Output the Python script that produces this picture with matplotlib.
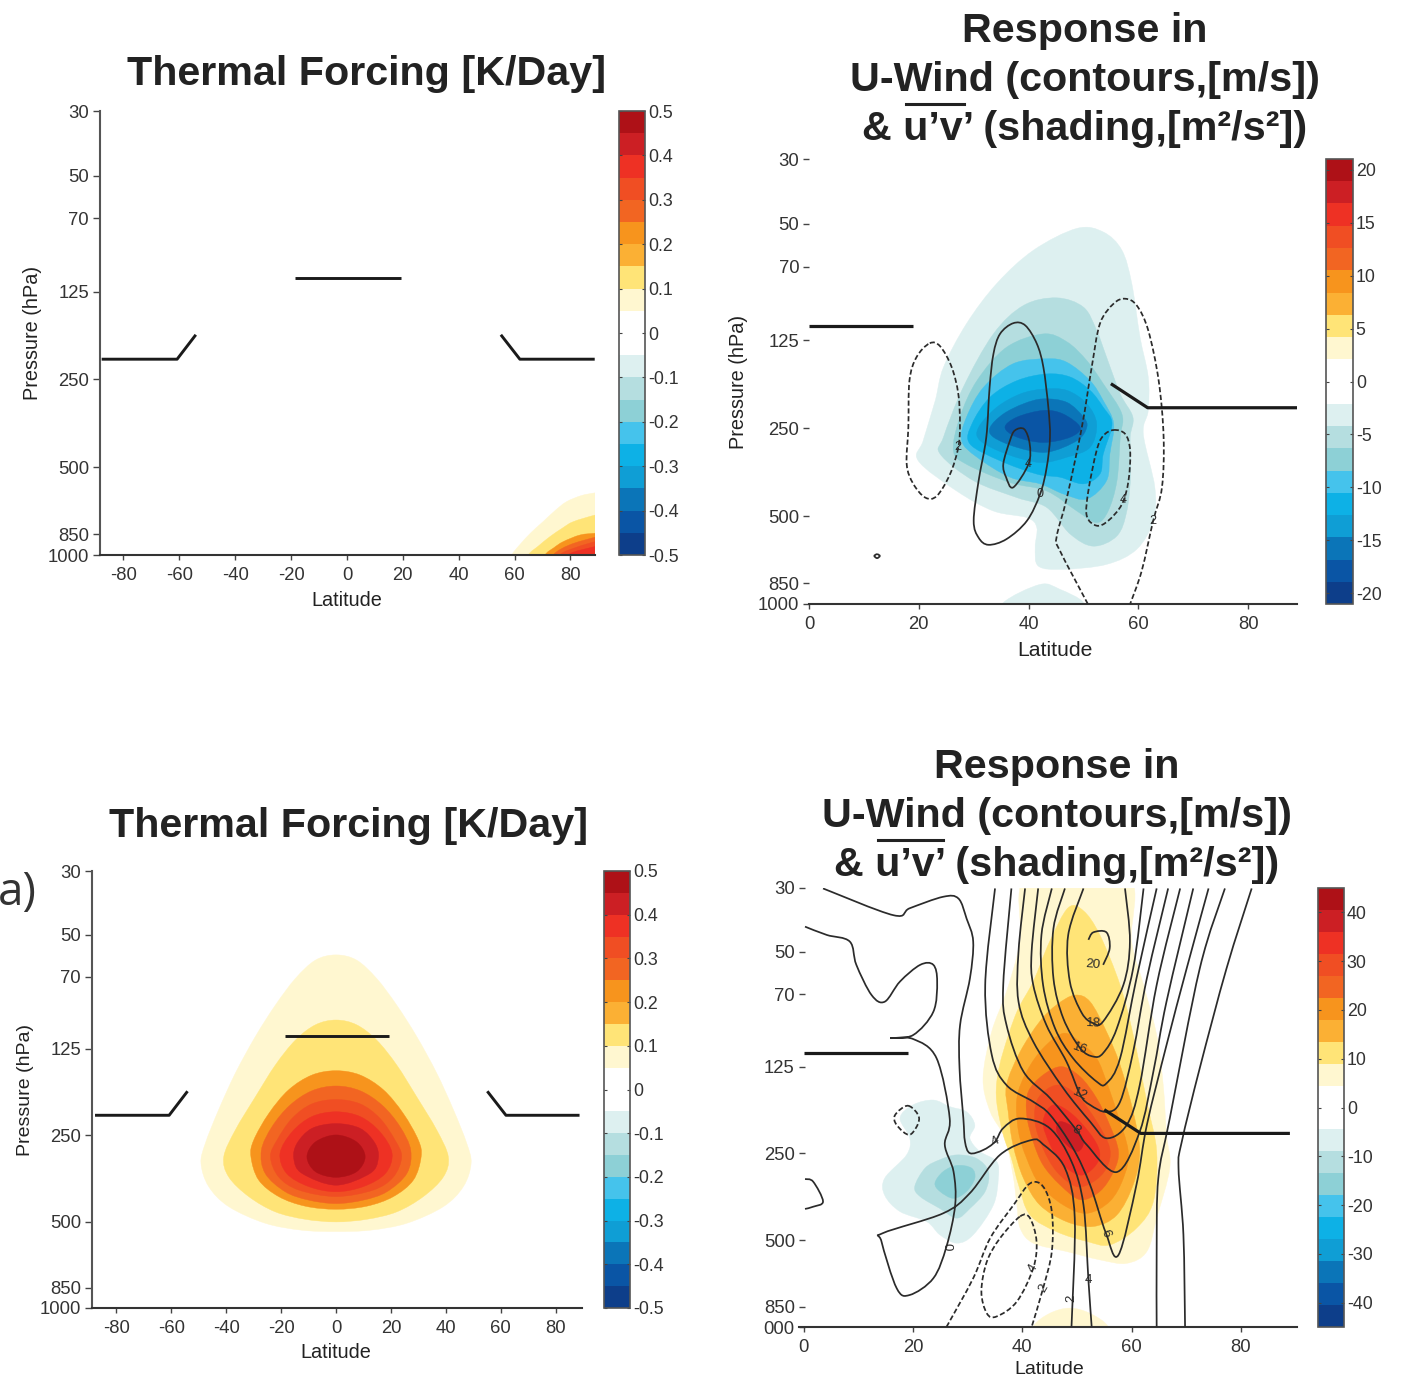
import numpy as np
import matplotlib
matplotlib.use('Agg')
import matplotlib.pyplot as plt
from matplotlib.cm import ScalarMappable
from matplotlib.colors import BoundaryNorm, ListedColormap
from matplotlib.patches import PathPatch
from matplotlib.path import Path

plt.rcParams['font.family'] = ['Liberation Sans', 'DejaVu Sans']
plt.rcParams['axes.unicode_minus'] = False

W, H = 1404, 1378
INK = '#2b2b2b'

# pressure levels and colour scale
P_TOP, P_BOT = 30, 1000
P_TICKS = [30, 50, 70, 125, 250, 500, 850, 1000]
P_LABELS = ['30', '50', '70', '125', '250', '500', '850', '1000']
P_LABELS_D = ['30', '50', '70', '125', '250', '500', '850', '000']
LAT_FULL = [-80, -60, -40, -20, 0, 20, 40, 60, 80]
LAT_NH = [0, 20, 40, 60, 80]
WARM = ['#fff7d0', '#ffe477', '#fbb034', '#f7941d', '#f26522', '#f04e23', '#ee3124', '#cc1f24', '#ae1117']
COOL = ['#ddf0f0', '#b5dee0', '#8dd0d6', '#45c3ec', '#0db1e6', '#0f9ed5', '#0b75b8', '#0a55a5', '#0d3e8a']
BAR_COLORS = COOL[::-1] + ['#ffffff', '#ffffff'] + WARM
CB_FORCING = [0.5, 0.4, 0.3, 0.2, 0.1, 0, -0.1, -0.2, -0.3, -0.4, -0.5]
CB_FORCING_LAB = ['0.5', '0.4', '0.3', '0.2', '0.1', '0', '-0.1', '-0.2', '-0.3', '-0.4', '-0.5']
CB_B = [20, 15, 10, 5, 0, -5, -10, -15, -20]
CB_D = [40, 30, 20, 10, 0, -10, -20, -30, -40]

# all outlines below: (latitude, lev), lev = % of the log-pressure depth, 0 = 30 hPa, 100 = 1000 hPa

# jet markers
JET_TOP = [(-18.6, 37.7), (19.2, 37.7)]
JET_L = [(-87.8, 55.9), (-60.8, 55.9), (-54.1, 50.4)]
JET_R = [(55.1, 50.4), (61.9, 55.9), (88.7, 55.9)]
JET_NH_TOP = [(0, 37.6), (19, 37.6)]
JET_NH_R = [(55, 50.5), (61.7, 55.9), (89, 55.9)]

# forcing, panel c (right half, mirrored about the equator)
FC_1 = [(0, 19.2), (7.5, 20.4), (14.8, 24.6), (22.1, 30.7), (29.4, 37.9), (36.7, 46.3), (42.8, 54.7), (47.6, 62.3), (49.2, 66.9),
        (46.4, 72.2), (39.1, 76.8), (25.8, 80.6), (12.4, 82.2), (0, 82.5)]
FC_2 = [(0, 34.1), (7.5, 35.2), (14.8, 38.7), (22.1, 44.4), (29.4, 51.7), (36.7, 59.3), (40.9, 65.4), (39.1, 70), (31.8, 74.5),
        (22.1, 78), (11.2, 79.7), (0, 80.3)]
FC_3 = [(0, 45.7), (8.8, 46.7), (17.3, 50.1), (24.5, 55.5), (30, 61.6), (31, 65.4), (28.2, 70.7), (20.9, 74.5), (11.2, 76.7), (0, 77.4)]
FC_4 = [(0, 49.2), (8.8, 50.3), (16.8, 53.6), (23.3, 58.5), (27.2, 63.9), (25.8, 69.2), (18.5, 73.4), (10, 75.3), (0, 76.1)]
FC_5 = [(0, 52.3), (8.8, 53.3), (16, 56.6), (21.5, 61.6), (23.9, 65.4), (20.9, 70), (13.6, 73), (0, 74.5)]
FC_6 = [(0, 55.1), (8.8, 56.2), (16, 59.7), (20.4, 64.6), (18, 69.2), (10, 72.2), (0, 73.4)]
FC_7 = [(0, 57.8), (8.8, 58.9), (14.2, 62.3), (15.4, 65.8), (12.4, 69.2), (0, 71.9)]
FC_8 = [(0, 60.4), (7.5, 62), (10.6, 65.4), (7.5, 68.8), (0, 70.1)]

# forcing, panel at the pole
FA_1 = [(59, 100), (62, 97.6), (66, 94.9), (70.2, 92.5), (74.5, 90), (78.6, 88), (84, 86.6), (88.8, 86), (91, 85.8), (92, 104), (56, 104)]
FA_2 = [(64.9, 100), (68.5, 98), (72.6, 95.9), (77, 94), (81, 92.5), (88.8, 91), (91, 90.8), (92, 104), (62, 104)]
FA_3 = [(70.9, 100), (74, 98.4), (77.4, 97), (83.4, 95.5), (88.8, 95.1), (91, 95), (92, 104), (68, 104)]
FA_4 = [(73.8, 100), (79.8, 97.7), (88.8, 96), (91, 95.8), (92, 104), (71, 104)]
FA_5 = [(76.2, 100), (82, 98.3), (88.8, 97), (91, 96.8), (92, 104), (73, 104)]
FA_6 = [(79, 100), (88.8, 98.1), (91, 97.8), (92, 104), (76, 104)]

# u'v' shading, upper right panel
SB_1 = [(48.8, 15.6), (53.6, 16.4), (57, 20.5), (58.8, 28), (60.3, 40), (61.8, 49), (61.8, 56.5), (60.9, 61.8), (63, 73.8),
        (62.7, 81.3), (59.7, 87.7), (54.2, 91.1), (46.3, 92.2), (41.8, 91.5), (41.2, 87.3), (41.5, 82.8), (39.7, 80.6),
        (33.6, 79.1), (26.9, 74.6), (19.9, 67.8), (20.8, 63.3), (23, 54.3), (24.5, 46.8), (28.7, 37), (34.2, 28), (40.9, 20.5)]
SB_1B = [(35.4, 99.7), (42.1, 95.6), (45.7, 96.7), (50, 99.7), (50, 104), (35, 104)]
SB_2 = [(45.1, 31.2), (50, 33.3), (52.4, 38.5), (54.2, 44.5), (56.7, 52.8), (59, 58), (58.5, 62.6), (58.6, 70.8), (57.9, 79.1),
        (56.1, 84.7), (51.8, 87), (47.6, 84.3), (43.3, 78.3), (37.9, 76.1), (30, 72.3), (23.9, 66.3), (24.5, 62.5), (28.1, 51.3),
        (33.6, 39.3), (39.1, 32.9)]
SB_3 = [(42.7, 39.3), (47, 41.1), (50.6, 45.3), (53.6, 50.5), (57, 57.3), (56.7, 62.5), (56.1, 72.3), (54.5, 79.1), (52.4, 81.7),
        (48.8, 79.1), (43.3, 74.6), (36.6, 72.7), (28.7, 68.6), (26.3, 65.5), (27.5, 58), (30.6, 49.8), (36, 42.3)]
SB_4 = [(43.3, 44.9), (47, 45.7), (51.2, 49.8), (53.6, 54.3), (55.5, 59.5), (54.8, 66.3), (54.2, 72.3), (50.6, 76.4), (46.4, 75.3),
        (42.1, 73), (36.6, 71.5), (30.6, 67), (27.8, 63.3), (28.7, 58), (31.8, 51.3), (37.2, 46)]
SB_5 = [(43.3, 48.3), (47.6, 49), (51.2, 52), (53.6, 55.8), (55.2, 59.5), (53.6, 66.3), (53, 70.8), (50, 73), (45.7, 71.5),
        (41.5, 70.8), (34.8, 67.8), (29.3, 64), (29.7, 59.5), (33, 53.5), (37.9, 49.8)]
SB_6 = [(42.7, 51.7), (47, 52), (50.6, 55), (52.4, 59.5), (51.2, 64.8), (47, 67), (42.1, 68.2), (36, 66.3), (31.2, 63.3),
        (30.9, 60.3), (34.2, 55.8), (38.5, 52.8)]
SB_7 = [(42.7, 53.9), (47, 54.7), (50, 58), (50.6, 60.3), (48.8, 63.3), (43.3, 65.9), (37.9, 64.8), (33.6, 62.5), (33, 60.3),
        (35.4, 57.3), (39.1, 55)]
SB_8 = [(42.7, 56.5), (46.3, 57.3), (49.4, 60.3), (47.6, 62.5), (42.7, 63.7), (37.9, 62.5), (35.7, 60.3), (37.9, 58)]

# u-wind contours, upper right panel
UB_DASH_L = [(22, 41.4), (23.9, 42.1), (26, 46.8), (27.2, 52.8), (27.5, 59.5), (27.2, 64.8), (25.7, 70.8), (23.3, 75.7), (21.2, 76.1),
             (19, 73), (17.8, 68.6), (18.1, 60.3), (18.3, 49.8), (19.6, 44.5)]
UB_MAIN = [(37.2, 36.9), (39.4, 37.4), (41.5, 41.5), (42.7, 46.8), (43.6, 55.8), (43.9, 62.5), (43.3, 69.3), (42.1, 75.3), (39.7, 81.3),
           (36, 85.4), (32.7, 86.7), (30.9, 85.1), (30, 81.3), (30.9, 72.3), (32.3, 62.5), (32.9, 51.3), (33.6, 43.8), (34.8, 39.3)]
UB_INNER = [(37.5, 61), (39.2, 60.7), (40.2, 64), (40, 68.5), (37.2, 73.8), (35.9, 71.5), (35.4, 68.5), (36.6, 63.3)]
UB_DASH_R = [(50.8, 100), (45.7, 88), (45.1, 85), (47, 76), (49.7, 60.3), (51.5, 46.8), (53, 37), (55.5, 32.5), (57.6, 31.4), (59.7, 32.9),
             (61.8, 38.5), (63.7, 49.8), (64.6, 62.5), (64.3, 73.8), (62.7, 81.3), (60.6, 92.6), (58.5, 100)]
UB_DASH_IN = [(55.5, 60.9), (57.6, 61.8), (58.5, 65.5), (58.2, 72.3), (57, 77.6), (54.5, 81.3), (52.4, 82.4), (50.6, 80.2), (50.9, 74.5),
              (52.4, 65.5), (53.6, 62.2)]
UB_SPECK = [(12.4, 88.8), (12.9, 89.2), (12.4, 89.7), (11.9, 89.2)]
LABELS_B = [('2', 27.2, 64.8, 0), ('0', 42.1, 75.3, 0), ('4', 40, 68.5, 0), ('4', 57.3, 76.7, 0), ('2', 62.7, 81.3, 0)]

# u'v' shading, lower right panel
SD_1 = [(41.1, -3), (59.1, -3), (60, 12.2), (62.2, 22.1), (64.6, 33.5), (65.8, 44.9), (66.4, 56.2), (67, 63.8), (64.6, 75.2), (62.8, 82.8),
        (59.1, 85.5), (54.2, 84.7), (48.1, 82.8), (42, 80.9), (39.6, 77.5), (39, 72.2), (38.3, 65.4), (36.8, 57), (34.1, 50.9), (32.8, 43.3),
        (34.4, 32.7), (37.1, 23.6), (39.6, 12.2)]
SD_1B = [(42, 99.9), (45, 96.9), (48.7, 95.7), (52.4, 96.9), (55.7, 99.9), (55.7, 104), (42, 104)]
SD_2 = [(48.4, 4.5), (51.2, 5.2), (54.2, 10.7), (57.9, 22.1), (60.3, 33.5), (62.8, 48.7), (64.6, 60), (64, 71.4), (60.9, 77.5), (56, 81.3),
        (51.8, 80.5), (46.3, 78.3), (41.4, 74.5), (39.3, 67.6), (38, 61.6), (36.5, 56.2), (35.3, 48.7), (35.4, 43.3), (36.5, 37.3), (39, 28.2),
        (42, 21.3), (45, 12.2)]
SD_3 = [(49.6, 24.4), (52.4, 25.9), (55.4, 32.7), (57.9, 40.3), (60.3, 51), (61.5, 60), (60.3, 67.6), (57.3, 74.5), (53, 77.1), (48.1, 76),
        (43.2, 72.2), (40.2, 66.1), (38.3, 58.5), (37.4, 50.9), (37.1, 44.9), (39.6, 37.3), (43.2, 30.4), (46.3, 26.6)]
SD_4 = [(47.5, 33.1), (50.5, 35), (53.6, 38.8), (55.4, 44.1), (57.3, 51), (59.4, 60), (58.5, 66.1), (56, 71.4), (51.8, 74.1), (47.5, 72.2),
        (43.2, 67.6), (40.8, 61.6), (39.3, 55.5), (39, 47.9), (40.8, 41.8), (43.8, 36.5)]
SD_5 = [(47.2, 40.7), (50.6, 43), (53.6, 47.9), (56, 54), (57.6, 60), (56.7, 64.6), (54.2, 69.1), (50.6, 71), (46.9, 67.6), (43.8, 63.1),
        (42, 57.8), (40.8, 51.7), (41.1, 46.4), (43.8, 42.6)]
SD_6 = [(46.3, 44.9), (49.9, 47.1), (53.6, 53.2), (56, 59.3), (55.4, 63.8), (53, 66.9), (49.9, 68), (46.3, 64.6), (43.8, 59.3), (42.3, 53.2),
        (42.9, 47.9)]
SD_7 = [(45.7, 49.4), (49.3, 51.7), (53, 57), (54.2, 60.8), (53, 63.8), (50.6, 65.4), (47.5, 63.1), (45.1, 58.5), (43.8, 53.2)]
SD_8 = [(46.9, 53.2), (49.6, 54.7), (51.2, 57.8), (50.2, 60), (48.1, 58.5), (46.3, 55.5)]
SD_N1 = [(23.7, 48.3), (26.7, 49.8), (29.8, 51), (31.3, 54), (30.4, 57), (32.2, 60), (35.3, 62.3), (35.6, 66.1), (34.7, 72.2), (31, 79), (28, 80.9),
         (24.9, 79), (22.5, 76), (17.6, 73.7), (14.8, 70), (14.8, 66.1), (18.8, 60.8), (19.4, 57), (17.6, 52.4), (20, 49.4)]
SD_N2 = [(28, 60.8), (31.6, 61.6), (33.8, 64.6), (33.2, 69.1), (30.4, 73), (28, 75.2), (24.9, 73), (21.3, 70.3), (20.3, 68), (22.2, 63.8), (24.9, 61.9)]
SD_N3 = [(28, 63.2), (30.7, 63.8), (31.3, 66.1), (29.8, 69.1), (27.4, 70.7), (24.9, 69.1), (24, 67.2), (25.5, 64.6)]

# u-wind contours, lower right panel
UD_0 = [(0.2, 8.8), (4.2, 10.7), (8.4, 12.2), (9.6, 17.5), (12.4, 24.4), (14.8, 25.9), (17.6, 21.3), (21.3, 17.5), (23.7, 17.5), (24.4, 21.3),
        (23.7, 28.2), (20, 33.5), (15.8, 34.2), (20, 34.4), (24.3, 38.8), (26.7, 52.5), (25.8, 58.5), (27.4, 64.6), (27.7, 72.2), (26.1, 81.7),
        (23.7, 88.9), (19.4, 92.7), (17, 91.2), (14.2, 80.5), (14.5, 78.6), (25.5, 74.1), (30.4, 69.5), (35.9, 60.8), (41.7, 57.4), (43.8, 58.4),
        (47.8, 63.8), (49.6, 75.2), (49, 100)]
UD_4 = [(3.5, 0.1), (16.4, 6.2), (19.4, 4.6), (25.5, 2), (28.3, 2.4), (29.8, 7), (31, 12.2), (30.4, 20.6), (28.6, 31.2), (28.5, 41.1), (29.2, 52.5),
        (29.5, 57.8), (30.4, 60.4), (32.8, 59.7), (35, 57.8), (36.5, 54.7), (39.6, 52.5), (45, 54.7), (49, 62.3), (51.2, 72.2), (52.1, 89.3), (52.7, 100)]
UD_6 = [(35, 0.1), (33.2, 22.1), (34.4, 38), (37.1, 44.9), (42, 48.7), (45.1, 51.7), (49.3, 59.3), (52.4, 67.6), (55.3, 78.6), (57.6, 83.6),
        (60.9, 67.6), (62.8, 54), (66.4, 35.8), (70.1, 18.3), (74.1, 0.1)]
UD_8 = [(38, 0.1), (36.5, 22.1), (37.1, 31.2), (40.2, 41.8), (45.1, 47.9), (49.9, 55.1), (51.8, 58.5), (57.3, 64.7), (61.5, 55.5), (64, 41.8),
        (66.4, 25.9), (71.3, 0.1)]
UD_10 = [(40.5, 0.1), (39.3, 14.5), (39.3, 25.9), (42, 35), (47.5, 45.6), (52.4, 53.2), (55.4, 57), (59.1, 54), (61.5, 44.9), (64.6, 22.1), (68.9, 0.1)]
UD_12 = [(42.9, 0.1), (41.7, 14.5), (42, 22.1), (44.4, 31.2), (48.1, 39.6), (50.6, 47.1), (52.4, 49.4), (55.4, 51), (57.9, 48.7), (60.3, 37.3),
         (62.8, 20.6), (66.7, 0.1)]
UD_14 = [(45.4, 0.1), (43.5, 10.7), (43.8, 22.1), (46, 32), (49.3, 38.8), (53.6, 44.1), (55.4, 44.5), (57.9, 38.8), (60.9, 20.6), (64.6, 0.1)]
UD_16 = [(47.8, 0.1), (45.7, 9.2), (45.7, 20.6), (47.5, 29.7), (50.6, 36.5), (53, 38.4), (54.8, 37.6), (57.3, 32), (60.3, 18.3), (62.2, 0.1)]
UD_18 = [(51.2, 0.1), (48.4, 10.7), (48.7, 21.3), (50.9, 28.5), (53, 30.8), (54.8, 30.4), (58.5, 22.1), (59.7, 12.2), (58.8, 0.1)]
UD_20 = [(54.8, 17.5), (56, 13.7), (55.4, 10.1), (53, 10.1), (52.1, 11.8)]
UD_R2 = [(77.1, 0.1), (72.5, 18.3), (67, 52.5), (64.9, 66.1), (64.6, 82.8), (64.6, 100)]
UD_R1 = [(82, 0.1), (77.4, 18.3), (72.5, 41), (69.2, 57.8), (68.6, 63.8), (69.5, 79), (69.8, 100)]
UD_LEFT = [(0.2, 66.3), (1.7, 66.9), (3.5, 71.4), (1.7, 72.6), (0.2, 73.1)]
UD_DASH_O = [(26.1, 100), (31, 88.9), (34.1, 79.8), (38.4, 72.2), (41.4, 67.3), (43.8, 68), (45.4, 73.7), (45.4, 82.8), (43.8, 91.2), (41.7, 100)]
UD_DASH_I = [(39.6, 74.8), (41.4, 75.2), (42.6, 80.5), (42, 86.6), (39, 94.2), (35.3, 97.6), (33.5, 96.9), (32.5, 91.9), (33.5, 85.1), (35.9, 79.8)]
UD_DIAMOND = [(19.1, 49.6), (21.1, 52.5), (19.4, 56.2), (17, 54), (16.7, 51.7)]
LABELS_D = [('20', 53, 17.5, -5), ('18', 53, 30.8, -3), ('16', 50.6, 36.5, -20), ('12', 50.6, 47.1, -25), ('8', 49.9, 55.1, -30),
            ('6', 55.3, 78.6, -70), ('4', 52.1, 89.3, 0), ('2', 49, 93.4, 90), ('4', 35, 57.8, 30), ('0', 26.1, 81.7, -90),
            ('2', 43.8, 91.2, 60), ('4', 42, 86.6, 60)]


def to_hpa(lev):
    return P_TOP * (P_BOT / P_TOP) ** (np.asarray(lev) / 100.0)


def mirror(half):
    return half + [(-a, b) for a, b in half[-2:0:-1]]


def smooth_path(pts, closed):
    # cubic segments through the read-off points
    p = np.array(pts, dtype=float)
    n = len(p)
    verts = [p[0]]
    codes = [Path.MOVETO]
    for i in range(n if closed else n - 1):
        if closed:
            p0, p1, p2, p3 = p[(i - 1) % n], p[i], p[(i + 1) % n], p[(i + 2) % n]
        else:
            p0, p1, p2, p3 = p[max(i - 1, 0)], p[i], p[i + 1], p[min(i + 2, n - 1)]
        verts += [p1 + (p2 - p0) / 6, p2 - (p3 - p1) / 6, p2]
        codes += [Path.CURVE4] * 3
    verts = np.array(verts)
    verts[:, 1] = to_hpa(verts[:, 1])
    return Path(verts, codes)


def shade(ax, pts, color):
    ax.add_patch(PathPatch(smooth_path(pts, True), fc=color, ec=color, lw=0.3, zorder=1))


def contour(ax, pts, closed=False, dashed=False):
    ls = (0, (3, 1.5)) if dashed else '-'
    ax.add_patch(PathPatch(smooth_path(pts, closed), fc='none', ec=INK, lw=1.25, ls=ls, zorder=3))


def jet(ax, pts, lw=2.1):
    lat, lev = zip(*pts)
    ax.plot(lat, to_hpa(lev), color='#1a1a1a', lw=lw, solid_capstyle='butt', zorder=4)


def px_axes(fig, x0, y0, x1, y1):
    return fig.add_axes([x0 / W, 1 - y1 / H, (x1 - x0) / W, (y1 - y0) / H])


def panel(fig, box, xlim, xticks, ylabels, left_spine):
    ax = px_axes(fig, *box)
    ax.set_yscale('log')
    ax.set_xlim(*xlim)
    ax.set_ylim(P_BOT, P_TOP)
    ax.set_xticks(xticks)
    ax.set_yticks(P_TICKS)
    ax.set_yticklabels(ylabels)
    ax.minorticks_off()
    ax.tick_params(axis='x', length=3.5, width=1, pad=5, labelsize=13.3, color='#444444', labelcolor='#333333')
    ax.tick_params(axis='y', length=5 if left_spine else 4, width=1, pad=3, labelsize=13.3, color='#444444', labelcolor='#333333')
    for s in ['top', 'right']:
        ax.spines[s].set_visible(False)
    ax.spines['left'].set_visible(left_spine)
    ax.spines['left'].set_linewidth(1.5)
    ax.spines['left'].set_color('#555555')
    ax.spines['bottom'].set_linewidth(1.5)
    ax.spines['bottom'].set_color('#333333')
    return ax


def colorbar(fig, box, vmax, ticks, labels):
    cax = px_axes(fig, *box)
    norm = BoundaryNorm(np.linspace(-vmax, vmax, 21), 20)
    sm = ScalarMappable(norm=norm, cmap=ListedColormap(BAR_COLORS))
    cb = fig.colorbar(sm, cax=cax, spacing='proportional')
    cb.set_ticks(ticks, labels=labels)
    cb.minorticks_off()
    cb.outline.set_edgecolor('#555555')
    cb.outline.set_linewidth(1.2)
    cax.tick_params(which='both', direction='in', left=True, right=True, length=2.5, width=0.8, pad=2,
                    labelsize=12.8, color='#444444', labelcolor='#333333')


def label_text(fig, x, y, s, **kw):
    kw.setdefault('color', '#222222')
    fig.text(x / W, 1 - y / H, s, ha='center', va='center', **kw)


def response_title(fig, cx, y0, bar):
    label_text(fig, cx, y0, 'Response in', fontsize=29.7, fontweight='bold')
    label_text(fig, cx, y0 + 49, 'U-Wind (contours,[m/s])', fontsize=29.7, fontweight='bold')
    label_text(fig, cx, y0 + 98, '& u’v’ (shading,[m²/s²])', fontsize=29.7, fontweight='bold')
    fig.add_artist(plt.Line2D([bar[0] / W, bar[1] / W], [1 - (y0 + 73) / H] * 2, color='#222222', lw=2.2))


fig = plt.figure(figsize=(W / 100, H / 100), dpi=100, facecolor='white')

# upper left
ax = panel(fig, (100, 111, 595, 555), (-88.4, 88.8), LAT_FULL, P_LABELS, True)
for idx, pts in [(0, FA_1), (1, FA_2), (3, FA_3), (4, FA_4), (5, FA_5), (6, FA_6)]:
    shade(ax, pts, WARM[idx])
jet(ax, JET_TOP)
jet(ax, JET_L)
jet(ax, JET_R)
colorbar(fig, (619, 111, 645, 555), 0.5, CB_FORCING, CB_FORCING_LAB)
label_text(fig, 367, 74, 'Thermal Forcing [K/Day]', fontsize=29.7, fontweight='bold')
label_text(fig, 33, 333, 'Pressure (hPa)', fontsize=14.3, rotation=90)
label_text(fig, 347, 600, 'Latitude', fontsize=14.3)

# lower left
ax = panel(fig, (92, 871, 582, 1308), (-88.9, 89.6), LAT_FULL, P_LABELS, True)
for idx, half in [(0, FC_1), (1, FC_2), (3, FC_3), (4, FC_4), (5, FC_5), (6, FC_6), (7, FC_7), (8, FC_8)]:
    shade(ax, mirror(half), WARM[idx])
jet(ax, JET_TOP)
jet(ax, JET_L)
jet(ax, JET_R)
colorbar(fig, (604, 871, 630, 1308), 0.5, CB_FORCING, CB_FORCING_LAB)
label_text(fig, 349, 826, 'Thermal Forcing [K/Day]', fontsize=29.7, fontweight='bold')
label_text(fig, 26, 1090, 'Pressure (hPa)', fontsize=14, rotation=90)
label_text(fig, 336, 1352, 'Latitude', fontsize=14.3)
fig.text(-2 / W, 1 - 893 / H, 'a)', ha='left', va='center', fontsize=33, family='Open Sans', color='#333333')

# upper right
ax = panel(fig, (809, 159, 1297, 604), (0, 88.9), LAT_NH, P_LABELS, False)
for idx, pts in enumerate([SB_1, SB_2, SB_3, SB_4, SB_5, SB_6, SB_7, SB_8]):
    shade(ax, pts, COOL[idx])
shade(ax, SB_1B, COOL[0])
contour(ax, UB_DASH_L, closed=True, dashed=True)
contour(ax, UB_MAIN, closed=True)
contour(ax, UB_INNER, closed=True)
contour(ax, UB_DASH_R, dashed=True)
contour(ax, UB_DASH_IN, closed=True, dashed=True)
contour(ax, UB_SPECK, closed=True)
for s, lat, lev, rot in LABELS_B:
    ax.text(lat, to_hpa(lev), s, fontsize=9, ha='center', va='center', rotation=rot, color=INK, zorder=5)
jet(ax, JET_NH_TOP, 2.3)
jet(ax, JET_NH_R, 2.3)
colorbar(fig, (1326, 159, 1353, 604), 21, CB_B, [str(v) for v in CB_B])
response_title(fig, 1085, 31, (906, 964))
label_text(fig, 739, 382, 'Pressure (hPa)', fontsize=14.3, rotation=90)
label_text(fig, 1055, 650, 'Latitude', fontsize=15.2)

# lower right
ax = panel(fig, (799, 888, 1297, 1327), (-0.9, 90.3), LAT_NH, P_LABELS_D, False)
ax.tick_params(axis='y', direction='in', length=4, pad=3)
for idx, pts in enumerate([SD_1, SD_2, SD_3, SD_4, SD_5, SD_6, SD_7, SD_8]):
    shade(ax, pts, WARM[idx])
shade(ax, SD_1B, WARM[0])
for idx, pts in enumerate([SD_N1, SD_N2, SD_N3]):
    shade(ax, pts, COOL[idx])
for pts in [UD_0, UD_4, UD_6, UD_8, UD_10, UD_12, UD_14, UD_16, UD_18, UD_20, UD_R2, UD_R1, UD_LEFT]:
    contour(ax, pts)
contour(ax, UD_DASH_O, dashed=True)
contour(ax, UD_DASH_I, closed=True, dashed=True)
contour(ax, UD_DIAMOND, closed=True, dashed=True)
for s, lat, lev, rot in LABELS_D:
    ax.text(lat, to_hpa(lev), s, fontsize=9.5, ha='center', va='center', rotation=rot, color=INK, zorder=5)
jet(ax, JET_NH_TOP, 2.3)
jet(ax, JET_NH_R, 2.3)
colorbar(fig, (1318, 888, 1344, 1327), 45, CB_D, [str(v) for v in CB_D])
response_title(fig, 1057, 767, (878, 943))
label_text(fig, 1049, 1370, 'Latitude', fontsize=14)

fig.savefig('out.png', dpi=100)
